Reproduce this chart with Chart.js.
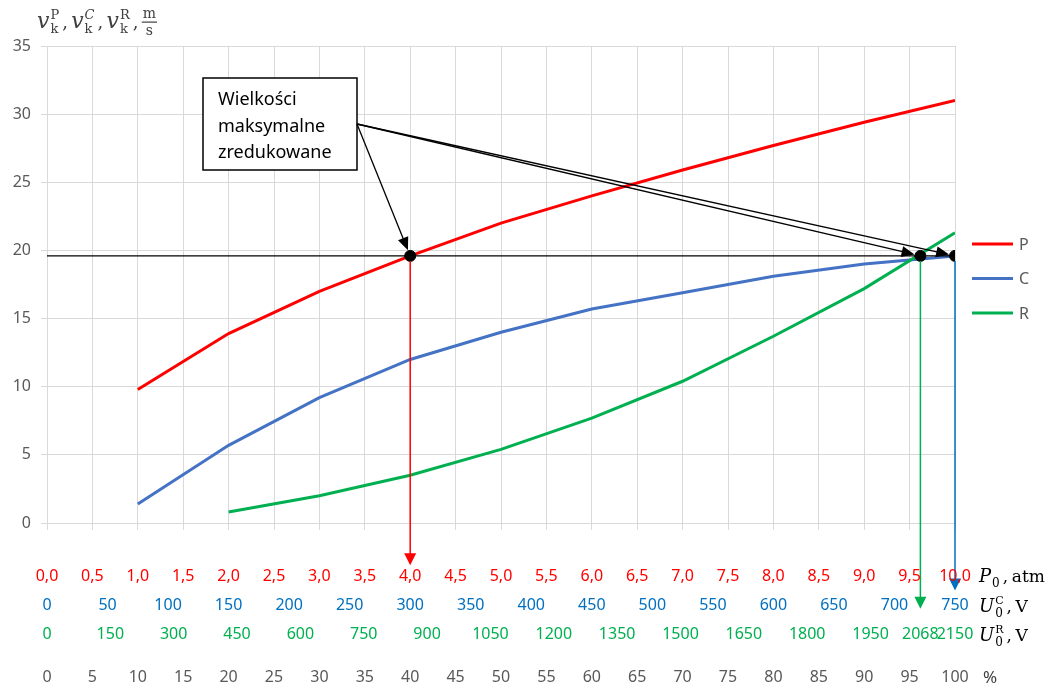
<!DOCTYPE html>
<html>
<head>
<meta charset="utf-8">
<script src="https://cdn.jsdelivr.net/npm/chart.js@4/dist/chart.umd.min.js"></script>
<style>
  html, body { margin: 0; padding: 0; background: #fff; }
  #wrap { width: 1046px; height: 688px; }
</style>
</head>
<body>
<div id="wrap"><canvas id="chart" width="1046" height="688"></canvas></div>
<script>
'use strict';

// x: percent of the reduced maximum
const percent = [10, 20, 30, 40, 50, 60, 70, 80, 90, 100];
// final velocity v_k for the three drives, m/s
const vP = [9.8, 13.9, 17.0, 19.6, 22.0, 24.0, 25.9, 27.7, 29.4, 31.0];
const vC = [1.4, 5.7, 9.2, 12.0, 14.0, 15.7, 16.9, 18.1, 19.0, 19.6];
const vR = [null, 0.8, 2.0, 3.5, 5.4, 7.7, 10.4, 13.7, 17.2, 21.3];
const seriesNames = ['P', 'C', 'R'];

// reduced maximum velocity and where P, R and C reach it
const vMax = 19.6;
const maxAt = [40, 96.19, 100];
const arrowEnds = [-3.1, -6.3, -4.95];

// secondary scales printed below the plot
const pressureTicks = [0, 0.5, 1, 1.5, 2, 2.5, 3, 3.5, 4, 4.5, 5, 5.5, 6, 6.5, 7, 7.5, 8, 8.5, 9, 9.5, 10];
const pressureMax = 10;
const voltageCTicks = [0, 50, 100, 150, 200, 250, 300, 350, 400, 450, 500, 550, 600, 650, 700, 750];
const voltageCMax = 750;
const voltageRTicks = [0, 150, 300, 450, 600, 750, 900, 1050, 1200, 1350, 1500, 1650, 1800, 1950, 2068, 2150];
const voltageRMax = 2150;
const percentTicks = [0, 5, 10, 15, 20, 25, 30, 35, 40, 45, 50, 55, 60, 65, 70, 75, 80, 85, 90, 95, 100];

const RED = '#ff0000', BLUE = '#4472c4', GREEN = '#00b050';
const BLUE_TXT = '#0070c0', GREY = '#595959';
const SANS = "'Noto Sans', sans-serif";
const SERIF = "'DejaVu Serif', serif";

Chart.defaults.font.family = SANS;

const xy = (xs, ys) => xs.map((x, i) => ({ x, y: ys[i] }));

function arrowHead(ctx, x, y, dx, dy, len, half) {
  const n = Math.hypot(dx, dy);
  const ux = dx / n, uy = dy / n;
  ctx.beginPath();
  ctx.moveTo(x, y);
  ctx.lineTo(x - ux * len - uy * half, y - uy * len + ux * half);
  ctx.lineTo(x - ux * len + uy * half, y - uy * len - ux * half);
  ctx.closePath();
  ctx.fill();
}

// symbol with upright super/subscript, returns the next x
function symbol(ctx, x, base, main, sup, sub, opt) {
  ctx.font = opt.main;
  ctx.fillText(main, x, base);
  x += ctx.measureText(main).width + 1;
  let w = 0;
  if (sup) { ctx.font = opt.supFont || opt.small; ctx.fillText(sup, x, base - opt.up); w = ctx.measureText(sup).width; }
  if (sub) { ctx.font = opt.small; ctx.fillText(sub, x, base + opt.down); w = Math.max(w, ctx.measureText(sub).width); }
  return x + w;
}

// ", unit" after a symbol
function unit(ctx, x, base, text) {
  ctx.font = '17px ' + SERIF;
  ctx.fillText(',', x + 3, base);
  ctx.fillText(text, x + 12, base);
}

const overlay = {
  id: 'overlay',
  afterDatasetsDraw(chart) {
    const { ctx, scales: { x, y } } = chart;
    const yMax = y.getPixelForValue(vMax);
    const colors = [RED, GREEN, BLUE_TXT];
    ctx.save();

    // vertical arrows from the maxima down to the secondary scales
    maxAt.forEach((v, i) => {
      const px = x.getPixelForValue(v);
      const tip = y.getPixelForValue(arrowEnds[i]);
      ctx.strokeStyle = ctx.fillStyle = colors[i];
      ctx.lineWidth = 1.5;
      ctx.beginPath();
      ctx.moveTo(px, yMax + 5);
      ctx.lineTo(px, tip - 10);
      ctx.stroke();
      arrowHead(ctx, px, tip, 0, 1, 12, 6);
    });

    // callout box
    const bx = 203, by = 78, bw = 154, bh = 92;
    ctx.fillStyle = '#fff';
    ctx.fillRect(bx, by, bw, bh);
    ctx.strokeStyle = '#000';
    ctx.lineWidth = 1.5;
    ctx.strokeRect(bx, by, bw, bh);
    ctx.fillStyle = '#000';
    ctx.font = '18px ' + SANS;
    ctx.textAlign = 'left';
    ctx.textBaseline = 'alphabetic';
    ['Wielkości', 'maksymalne', 'zredukowane'].forEach((t, i) => ctx.fillText(t, 218, 105 + i * 26.5));

    // callout arrows to the three maxima
    const sx = bx + bw, sy = 124;
    ctx.lineWidth = 1.3;
    maxAt.forEach(v => {
      const tx = x.getPixelForValue(v), ty = yMax;
      const dx = tx - sx, dy = ty - sy, n = Math.hypot(dx, dy);
      const ex = tx - dx / n * 6, ey = ty - dy / n * 6;
      ctx.beginPath();
      ctx.moveTo(sx, sy);
      ctx.lineTo(ex - dx / n * 8, ey - dy / n * 8);
      ctx.stroke();
      arrowHead(ctx, ex, ey, dx, dy, 13, 5.5);
    });

    // secondary scale rows
    ctx.textAlign = 'center';
    ctx.textBaseline = 'middle';
    ctx.font = '16px ' + SANS;
    const row = (ticks, max, fmt, color, py) => {
      ctx.fillStyle = color;
      ticks.forEach(t => ctx.fillText(fmt(t), x.getPixelForValue(t / max * 100), py));
    };
    row(pressureTicks, pressureMax, t => t.toFixed(1).replace('.', ','), RED, 576);
    row(voltageCTicks, voltageCMax, String, BLUE_TXT, 605);
    row(voltageRTicks, voltageRMax, String, GREEN, 634);
    row(percentTicks, 100, String, GREY, 677);

    // units of the secondary scales
    ctx.textAlign = 'left';
    ctx.textBaseline = 'alphabetic';
    ctx.fillStyle = '#000';
    const unitOpt = { main: 'italic 18px ' + SERIF, small: '12px ' + SERIF, supFont: '11px ' + SERIF, up: 8, down: 5 };
    unit(ctx, symbol(ctx, 979, 582, 'P', null, '0', unitOpt), 582, 'atm');
    unit(ctx, symbol(ctx, 979, 612, 'U', 'C', '0', unitOpt), 612, 'V');
    unit(ctx, symbol(ctx, 979, 641, 'U', 'R', '0', unitOpt), 641, 'V');
    ctx.fillStyle = '#404040';
    ctx.font = '17px ' + SANS;
    ctx.fillText('%', 983, 683);

    // y axis title: v_k^P , v_k^C , v_k^R , m/s
    const titleOpt = { main: 'italic 22px ' + SERIF, small: '13px ' + SERIF, up: 9, down: 5 };
    let tx = 37;
    ['P', 'C', 'R'].forEach(s => {
      const opt = s === 'C' ? { ...titleOpt, supFont: 'italic 13px ' + SERIF } : titleOpt;
      tx = symbol(ctx, tx, 28, 'v', s, 'k', opt);
      ctx.font = '18px ' + SERIF;
      ctx.fillText(',', tx + 3, 28);
      tx += 12;
    });
    ctx.font = '14px ' + SERIF;
    ctx.textAlign = 'center';
    const fw = ctx.measureText('m').width + 2;
    ctx.fillText('m', tx + fw / 2, 18);
    ctx.fillText('s', tx + fw / 2, 35);
    ctx.fillRect(tx, 21.5, fw, 1.2);

    // legend
    ctx.textAlign = 'left';
    ctx.textBaseline = 'middle';
    ctx.font = '16px ' + SANS;
    [RED, BLUE, GREEN].forEach((c, i) => {
      const ly = 244 + i * 34.5;
      ctx.strokeStyle = c;
      ctx.lineWidth = 3;
      ctx.beginPath();
      ctx.moveTo(972, ly);
      ctx.lineTo(1013, ly);
      ctx.stroke();
      ctx.fillStyle = GREY;
      ctx.fillText(seriesNames[i], 1019, ly + 1);
    });
    ctx.restore();
  }
};

const line = (label, data, color, order) => ({
  label, data, borderColor: color, backgroundColor: color,
  borderWidth: 3, pointRadius: 0, fill: false, tension: 0, order, spanGaps: false
});

new Chart(document.getElementById('chart'), {
  type: 'line',
  data: {
    datasets: [
      { label: 'max', data: maxAt.map(v => ({ x: v, y: vMax })), showLine: false,
        pointRadius: 5.5, pointBackgroundColor: '#000', pointBorderColor: '#000', order: 0 },
      { label: 'level', data: [{ x: 0, y: vMax }, { x: 100, y: vMax }], borderColor: '#000',
        borderWidth: 1.3, pointRadius: 0, order: 1 },
      line(seriesNames[2], xy(percent, vR), GREEN, 2),
      line(seriesNames[1], xy(percent, vC), BLUE, 3),
      line(seriesNames[0], xy(percent, vP), RED, 4)
    ]
  },
  options: {
    responsive: false,
    animation: false,
    devicePixelRatio: 1,
    layout: { padding: { top: 46, right: 91, left: 0, bottom: 0 } },
    plugins: { legend: { display: false }, tooltip: { enabled: false } },
    scales: {
      x: {
        type: 'linear', min: 0, max: 100,
        ticks: { display: false, stepSize: 5 },
        grid: { color: '#d9d9d9', tickLength: 7 },
        border: { color: '#d9d9d9' },
        afterFit: s => { s.height = 165; }
      },
      y: {
        min: 0, max: 35,
        ticks: { stepSize: 5, color: GREY, font: { size: 16 }, padding: 10 },
        grid: { color: '#d9d9d9', tickLength: 6 },
        border: { display: false },
        afterFit: s => { s.width = 47; }
      }
    }
  },
  plugins: [overlay]
});
</script>
</body>
</html>
